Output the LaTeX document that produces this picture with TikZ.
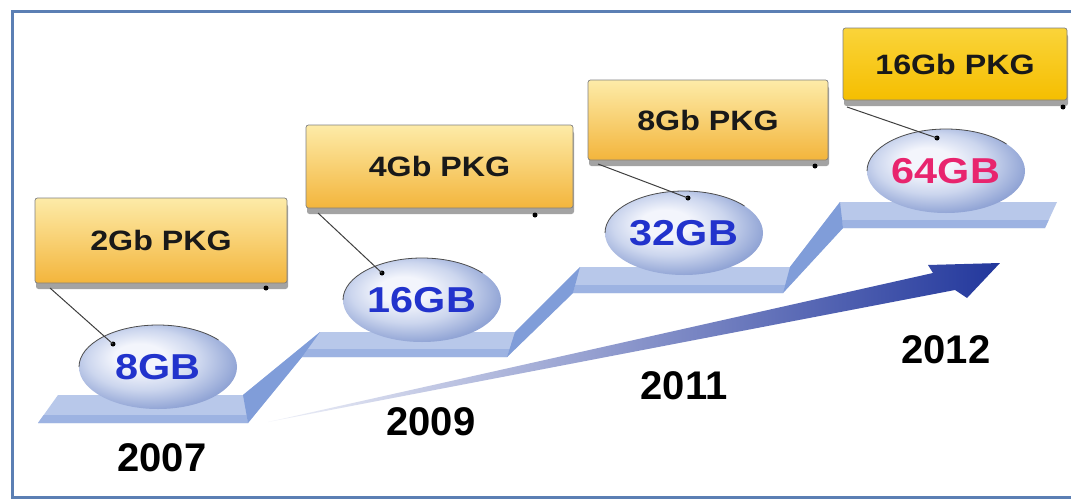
\documentclass[tikz,border=0pt]{standalone}
\usepackage{fontspec}
\usepackage{graphicx}
\setmainfont{Liberation Sans}
\usetikzlibrary{shapes.geometric,shadows}
\definecolor{frameblue}{HTML}{5B7FB4}
\definecolor{facelight}{HTML}{B8C8EA}
\definecolor{facestrip}{HTML}{9DB3E2}
\definecolor{riserblue}{HTML}{809DD9}
\definecolor{boxtop}{HTML}{FDEBA8}
\definecolor{boxbot}{HTML}{F3B53C}
\definecolor{goldtop}{HTML}{FAD43A}
\definecolor{goldbot}{HTML}{F5BE00}
\definecolor{ellA}{HTML}{F3F5FC}
\definecolor{ellB}{HTML}{CCD6EE}
\definecolor{ellC}{HTML}{93A6D6}
\definecolor{ellD}{HTML}{7086C2}
\definecolor{gbblue}{HTML}{2233CC}
\definecolor{gbpink}{HTML}{E8246E}
\definecolor{arrowA}{HTML}{F0F2F9}
\definecolor{arrowB}{HTML}{A9B4DE}
\definecolor{arrowC}{HTML}{22379C}
\pgfdeclareradialshading{ellshade}{\pgfpoint{-7bp}{7bp}}{color(0bp)=(ellA); color(8bp)=(ellA); color(18bp)=(ellB); color(28bp)=(ellC); color(36bp)=(ellD); color(50bp)=(ellD)}
\tikzset{
  pkgbox/.style={rounded corners=2.5pt, draw=black!50, line width=0.7pt,
    top color=boxtop, bottom color=boxbot, inner sep=0pt,
    font=\fontsize{28}{30}\selectfont\bfseries, text=black!90,
    drop shadow={shadow xshift=1pt, shadow yshift=-6pt, fill=black!45, opacity=0.8}},
  goldbox/.style={pkgbox, top color=goldtop, bottom color=goldbot},
  capell/.style={ellipse, minimum width=158pt, minimum height=84pt, inner sep=0pt,
    shade, shading=ellshade, font=\fontsize{36}{38}\selectfont\bfseries, text=gbblue},
  ellrim/.style={draw=black!70, line width=0.8pt},
  yearlabel/.style={font=\fontsize{40}{42}\selectfont\bfseries, inner sep=0pt, text depth=0pt},
  dotmark/.style={circle, fill=black, inner sep=0pt, minimum size=5pt},
  callout/.style={draw=black!75, line width=1pt}
}
\begin{document}
\begin{tikzpicture}[x=1pt,y=-1pt]
\useasboundingbox (0,0) rectangle (1071,501);
\fill[white] (0,0) rectangle (1071,501);
% frame
\draw[frameblue, line width=3.5pt] (1090,11.5) -- (12.5,11.5) -- (12.5,497.5) -- (1090,497.5);
% stair ribbon
\fill[facelight] (38,423) -- (248,423) -- (302,357) -- (507,357) -- (573,293) -- (783,293)
  -- (843,228) -- (1045,228) -- (1057,202) -- (840,202) -- (790,267) -- (580,267)
  -- (515,332) -- (320,332) -- (243,395) -- (58,395) -- cycle;
\fill[facestrip] (38,423) -- (248,423) -- (246.6,415) -- (43.7,415) -- cycle;
\fill[facestrip] (302,357) -- (507,357) -- (509.6,349) -- (307.8,349) -- cycle;
\fill[facestrip] (573,293) -- (783,293) -- (785.2,285) -- (575.2,285) -- cycle;
\fill[facestrip] (843,228) -- (1045,228) -- (1048.7,220) -- (842,220) -- cycle;
\fill[riserblue] (248,423) -- (302,357) -- (320,332) -- (243,395) -- cycle;
\fill[riserblue] (507,357) -- (573,293) -- (580,267) -- (515,332) -- cycle;
\fill[riserblue] (783,293) -- (843,228) -- (840,202) -- (790,267) -- cycle;
% growth arrow
\shade[left color=arrowA, middle color=arrowB, right color=arrowC]
  (268,422) -- (933,273) -- (928,265) -- (1000,263) -- (967,298) -- (955,290) -- cycle;
% ellipses
\node[capell] (e1) at (158,367) {\scalebox{1.15}[1]{8GB}};
\node[capell] (e2) at (422,300) {\scalebox{1.15}[1]{16GB}};
\node[capell] (e3) at (684,233) {\scalebox{1.15}[1]{32GB}};
\node[capell, text=gbpink] (e4) at (946,171) {\scalebox{1.15}[1]{64GB}};
\draw[ellrim] (e1.center) ++(-79pt,0pt) arc[start angle=180, end angle=40, x radius=79pt, y radius=42pt];
\draw[ellrim] (e2.center) ++(-79pt,0pt) arc[start angle=180, end angle=40, x radius=79pt, y radius=42pt];
\draw[ellrim] (e3.center) ++(-79pt,0pt) arc[start angle=180, end angle=40, x radius=79pt, y radius=42pt];
\draw[ellrim] (e4.center) ++(-79pt,0pt) arc[start angle=180, end angle=40, x radius=79pt, y radius=42pt];
% package boxes
\node[pkgbox, minimum width=252pt, minimum height=85pt] (b1) at (161,240.5) {\scalebox{1.15}[1]{2Gb PKG}};
\node[pkgbox, minimum width=267pt, minimum height=83pt] (b2) at (439.5,166.5) {\scalebox{1.15}[1]{4Gb PKG}};
\node[pkgbox, minimum width=240pt, minimum height=80pt] (b3) at (708,120) {\scalebox{1.15}[1]{8Gb PKG}};
\node[goldbox, minimum width=224pt, minimum height=72pt] (b4) at (955,64) {\scalebox{1.15}[1]{16Gb PKG}};
% callout lines
\coordinate (s1) at (50,288);
\coordinate (s2) at (318,213);
\coordinate (s3) at (598,164);
\coordinate (s4) at (847,107);
\node[dotmark] (d1) at (113,344) {};
\node[dotmark] (d2) at (382,273) {};
\node[dotmark] (d3) at (688,198) {};
\node[dotmark] (d4) at (937,138) {};
\node[dotmark] (r1) at (266,288) {};
\node[dotmark] (r2) at (535,215) {};
\node[dotmark] (r3) at (815,166) {};
\node[dotmark] (r4) at (1063,107) {};
\draw[callout] (s1) -- (d1.center);
\draw[callout] (s2) -- (d2.center);
\draw[callout] (s3) -- (d3.center);
\draw[callout] (s4) -- (d4.center);
% years
\node[yearlabel] (y1) at (162,457.5) {2007};
\node[yearlabel] (y2) at (431,422) {2009};
\node[yearlabel] (y3) at (684,386) {2011};
\node[yearlabel] (y4) at (946,350) {2012};
\end{tikzpicture}
\end{document}
